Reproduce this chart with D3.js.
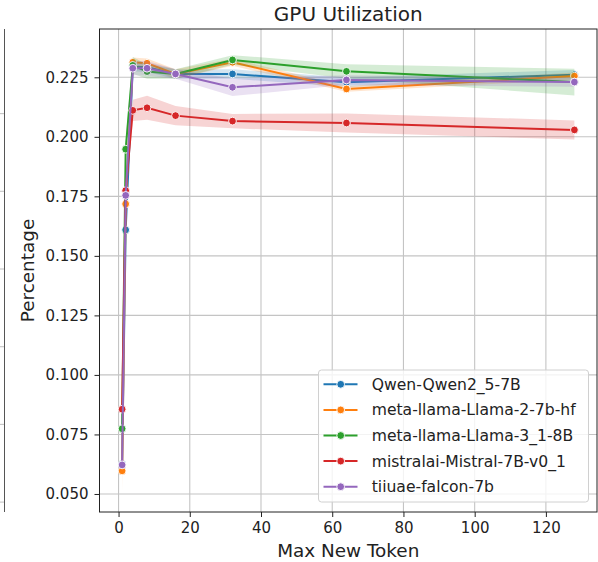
<!DOCTYPE html>
<html>
<head>
<meta charset="utf-8">
<script src="https://cdn.jsdelivr.net/npm/d3@7"></script>
<style>
  body { margin: 0; background: #fff; }
  svg { font-family: "DejaVu Sans", sans-serif; display: block; }
</style>
</head>
<body>
<svg id="chart" width="598" height="562"></svg>
<script>
// ---- data ----
var tokens = [1, 2, 4, 8, 16, 32, 64, 128];
var models = ["Qwen-Qwen2_5-7B", "meta-llama-Llama-2-7b-hf", "meta-llama-Llama-3_1-8B",
              "mistralai-Mistral-7B-v0_1", "tiiuae-falcon-7b"];
var colors = ["#1f77b4", "#ff7f0e", "#2ca02c", "#d62728", "#9467bd"];

var meanQwen    = [0.0625, 0.1609, 0.2295, 0.2292, 0.2264, 0.2264, 0.2229, 0.2261];
var ciQwen      = [0.001, 0.004, 0.002, 0.002, 0.002, 0.002, 0.002, 0.002];
var meanLlama2  = [0.0597, 0.1718, 0.2313, 0.2309, 0.2264, 0.2313, 0.2201, 0.2255];
var ciLlama2    = [0.009, 0.004, 0.002, 0.002, 0.002, 0.0015, 0.0012, 0.0015];
var meanLlama3  = [0.0774, 0.1948, 0.2300, 0.2274, 0.2264, 0.2323, 0.2275, 0.2230];
var ciLlama3    = [0.002, 0.004, 0.0035, 0.003, 0.002, 0.002, 0.003, 0.0056];
var meanMistral = [0.0856, 0.1774, 0.2111, 0.2122, 0.2089, 0.2066, 0.2058, 0.2029];
var ciMistral   = [0.001, 0.003, 0.0045, 0.005, 0.004, 0.003, 0.004, 0.004];
var meanFalcon  = [0.0622, 0.1754, 0.2288, 0.2288, 0.2264, 0.2208, 0.2239, 0.2230];
var ciFalcon    = [0.001, 0.003, 0.003, 0.003, 0.002, 0.0037, 0.002, 0.002];

var xTicks = [0, 20, 40, 60, 80, 100, 120];
var yTicks = [0.050, 0.075, 0.100, 0.125, 0.150, 0.175, 0.200, 0.225];

var means = [meanQwen, meanLlama2, meanLlama3, meanMistral, meanFalcon];
var cis   = [ciQwen, ciLlama2, ciLlama3, ciMistral, ciFalcon];

// ---- layout ----
var plotL = 99.5, plotR = 597, plotT = 29, plotB = 512;
var svg = d3.select("#chart");

var xScale = d3.scaleLinear().domain([-5.35, 134.35]).range([plotL, plotR]);
var yScale = d3.scaleLinear().domain([0.04243, 0.24528]).range([plotB, plotT]);

// piece of the neighbouring subplot on the far left
var leftGrid = [113.6, 191.3, 269, 346.7, 424.4, 502.1];
svg.append("g").selectAll("line").data(leftGrid).enter().append("line")
    .attr("x1", 0).attr("x2", 4.5)
    .attr("y1", function(d) { return d; }).attr("y2", function(d) { return d; })
    .attr("stroke", "#c4c4c4").attr("stroke-width", 1.1);
svg.append("line")
    .attr("x1", 4.5).attr("x2", 4.5).attr("y1", plotT).attr("y2", plotB)
    .attr("stroke", "#555").attr("stroke-width", 1);

// grid
var grid = svg.append("g");
grid.selectAll(".gx").data(xTicks).enter().append("line")
    .attr("x1", function(d) { return xScale(d); }).attr("x2", function(d) { return xScale(d); })
    .attr("y1", plotT).attr("y2", plotB)
    .attr("stroke", "#c4c4c4").attr("stroke-width", 1.1);
grid.selectAll(".gy").data(yTicks).enter().append("line")
    .attr("x1", plotL).attr("x2", plotR)
    .attr("y1", function(d) { return yScale(d); }).attr("y2", function(d) { return yScale(d); })
    .attr("stroke", "#c4c4c4").attr("stroke-width", 1.1);

// bands + lines
var area = d3.area()
    .x(function(d) { return xScale(d.t); })
    .y0(function(d) { return yScale(d.m - d.c); })
    .y1(function(d) { return yScale(d.m + d.c); });
var line = d3.line()
    .x(function(d) { return xScale(d.t); })
    .y(function(d) { return yScale(d.m); });

models.forEach(function(name, k) {
  var data = tokens.map(function(t, i) { return { t: t, m: means[k][i], c: cis[k][i] }; });
  var g = svg.append("g");
  g.append("path").datum(data).attr("d", area)
      .attr("fill", colors[k]).attr("fill-opacity", 0.2);
  g.append("path").datum(data).attr("d", line)
      .attr("fill", "none").attr("stroke", colors[k]).attr("stroke-width", 2);
  g.selectAll("circle").data(data).enter().append("circle")
      .attr("cx", function(d) { return xScale(d.t); })
      .attr("cy", function(d) { return yScale(d.m); })
      .attr("r", 3.9)
      .attr("fill", colors[k]).attr("stroke", "#fff").attr("stroke-width", 0.9);
});

// axes
var xAxis = svg.append("g")
    .attr("transform", "translate(0," + plotB + ")")
    .call(d3.axisBottom(xScale).tickValues(xTicks).tickSize(5).tickPadding(5).tickFormat(d3.format("d")));
var yAxis = svg.append("g")
    .attr("transform", "translate(" + plotL + ",0)")
    .call(d3.axisLeft(yScale).tickValues(yTicks).tickSize(5).tickPadding(6).tickFormat(d3.format(".3f")));
[xAxis, yAxis].forEach(function(a) {
  a.select(".domain").remove();
  a.selectAll("text").attr("font-size", 15).attr("fill", "#222").attr("font-family", "DejaVu Sans");
  a.selectAll("line").attr("stroke", "#222");
});

// frame
svg.append("rect")
    .attr("x", plotL).attr("y", plotT).attr("width", plotR - plotL).attr("height", plotB - plotT)
    .attr("fill", "none").attr("stroke", "#222").attr("stroke-width", 1);

// title + labels
svg.append("text")
    .attr("x", (plotL + plotR) / 2).attr("y", 21)
    .attr("text-anchor", "middle").attr("font-size", 20).attr("fill", "#222")
    .text("GPU Utilization");
svg.append("text")
    .attr("x", (plotL + plotR) / 2).attr("y", 557)
    .attr("text-anchor", "middle").attr("font-size", 18.4).attr("fill", "#222")
    .text("Max New Token");
svg.append("text")
    .attr("transform", "translate(34," + ((plotT + plotB) / 2) + ") rotate(-90)")
    .attr("text-anchor", "middle").attr("font-size", 18.4).attr("fill", "#222")
    .text("Percentage");

// legend
var legend = svg.append("g");
legend.append("rect")
    .attr("x", 318.5).attr("y", 370).attr("width", 270).attr("height", 132)
    .attr("rx", 3).attr("fill", "#fff").attr("fill-opacity", 0.8)
    .attr("stroke", "#d0d0d0").attr("stroke-width", 1);
models.forEach(function(name, k) {
  var y = 384.3 + k * 25.6;
  legend.append("line")
      .attr("x1", 323.5).attr("x2", 357.5).attr("y1", y).attr("y2", y)
      .attr("stroke", colors[k]).attr("stroke-width", 2);
  legend.append("circle")
      .attr("cx", 340.7).attr("cy", y).attr("r", 3.9)
      .attr("fill", colors[k]).attr("stroke", "#fff").attr("stroke-width", 0.9);
  legend.append("text")
      .attr("x", 371.7).attr("y", y + 5.5)
      .attr("font-size", 15.6).attr("fill", "#222")
      .text(name);
});
</script>
</body>
</html>
